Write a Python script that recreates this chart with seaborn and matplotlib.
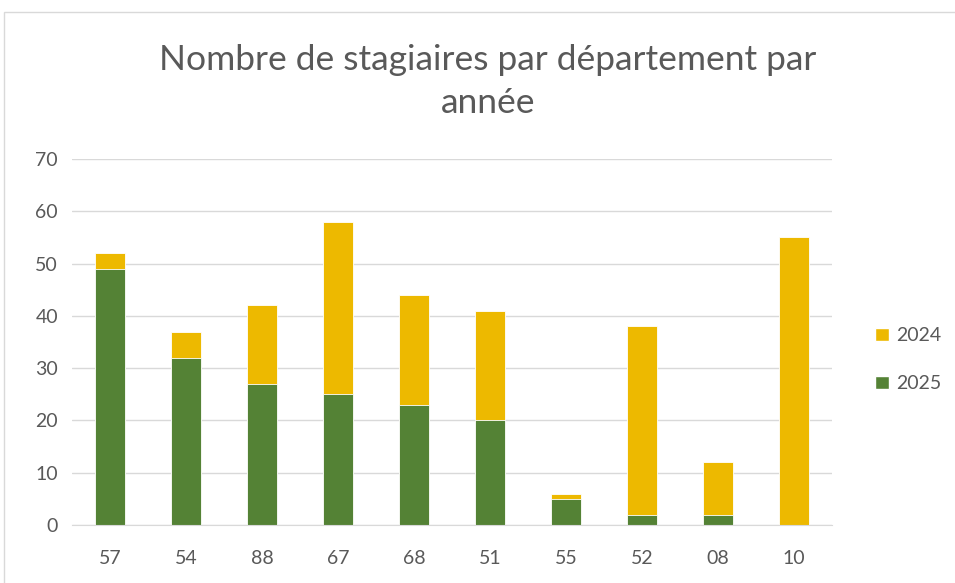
import pandas as pd
import seaborn as sns
import matplotlib.pyplot as plt
from matplotlib.patches import Rectangle, Patch

# departments and counts
departements = ["57", "54", "88", "67", "68", "51", "55", "52", "08", "10"]
stagiaires_2025 = [49, 32, 27, 25, 23, 20, 5, 2, 2, 0]
stagiaires_2024 = [3, 5, 15, 33, 21, 21, 1, 36, 10, 55]

df = pd.DataFrame({"dep": departements, "y2025": stagiaires_2025, "y2024": stagiaires_2024})
df["total"] = df["y2025"] + df["y2024"]

JAUNE = "#EDB900"
VERT = "#548235"
GRIS = "#595959"

sns.set_style("white")
plt.rcParams["font.family"] = ["Lato", "DejaVu Sans"]

fig = plt.figure(figsize=(9.55, 5.83), dpi=100)
ax = fig.add_axes([72 / 955, 58 / 583, 760 / 955, 366 / 583])

# stacked bars: total first (yellow), then 2025 on top of it (green)
sns.barplot(data=df, x="dep", y="total", color=JAUNE, width=0.4, saturation=1,
            edgecolor="white", linewidth=0.6, ax=ax)
sns.barplot(data=df, x="dep", y="y2025", color=VERT, width=0.4, saturation=1,
            edgecolor="white", linewidth=0.6, ax=ax)

ax.set_ylim(0, 70)
ax.set_xlim(-0.5, len(departements) - 0.5)
ax.set_yticks(range(0, 71, 10))
ax.yaxis.grid(True, color="#D9D9D9", linewidth=1)
ax.set_axisbelow(True)
for s in ["top", "right", "left"]:
    ax.spines[s].set_visible(False)
ax.spines["bottom"].set_color("#D9D9D9")
ax.tick_params(axis="both", length=0, labelsize=14, colors=GRIS)
ax.tick_params(axis="x", pad=18)
ax.tick_params(axis="y", pad=10)
ax.set_xlabel("")
ax.set_ylabel("")

fig.text(0.511, 0.897, "Nombre de stagiaires par département par", ha="center", va="center",
         fontsize=25.5, color=GRIS)
fig.text(0.511, 0.823, "année", ha="center", va="center", fontsize=25.5, color=GRIS)

handles = [Patch(facecolor=JAUNE, label="2024"), Patch(facecolor=VERT, label="2025")]
fig.legend(handles=handles, loc="center left", bbox_to_anchor=(0.898, 0.383), frameon=False,
           fontsize=14, labelcolor=GRIS, handlelength=0.7, handleheight=0.7,
           handletextpad=0.4, labelspacing=1.6)

fig.patches.append(Rectangle((4 / 955, -0.1), 1.1, 1 - 12 / 583 + 0.1, transform=fig.transFigure,
                             fill=False, edgecolor="#D9D9D9", linewidth=1))

fig.savefig("out.png", dpi=100)
